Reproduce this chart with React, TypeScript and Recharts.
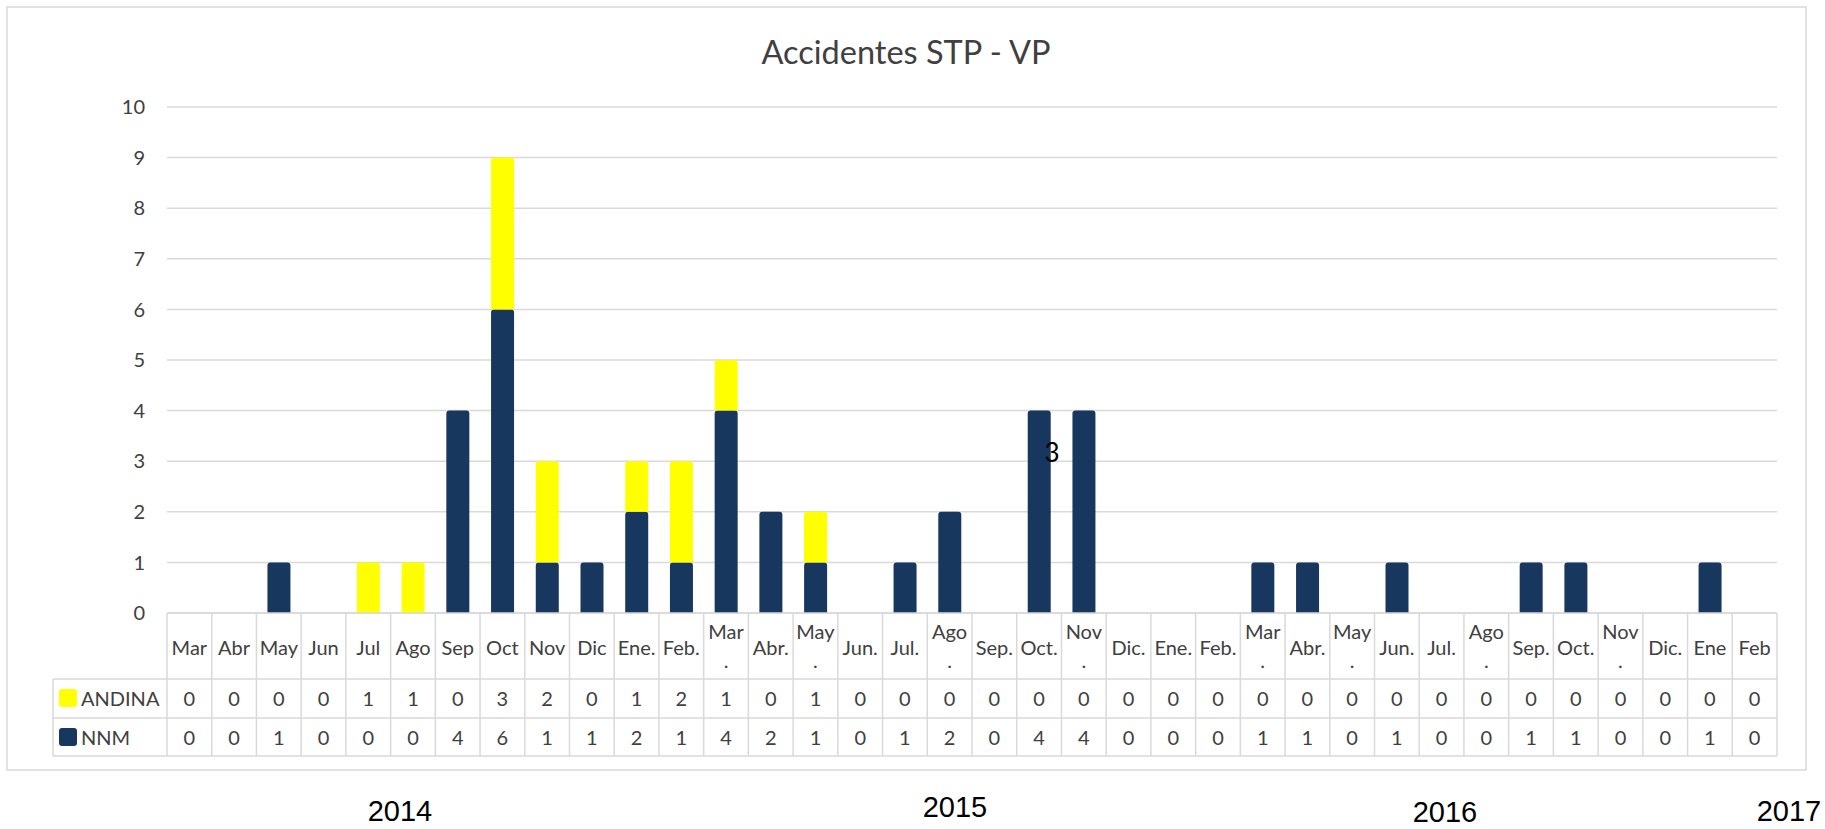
import React from 'react';
import { BarChart, Bar, XAxis, YAxis, CartesianGrid } from 'recharts';

// month headers of the data table ("\n" = wrapped label)
const monthLabels = [
  'Mar', 'Abr', 'May', 'Jun', 'Jul', 'Ago', 'Sep', 'Oct', 'Nov', 'Dic',
  'Ene.', 'Feb.', 'Mar\n.', 'Abr.', 'May\n.', 'Jun.', 'Jul.', 'Ago\n.', 'Sep.', 'Oct.', 'Nov\n.', 'Dic.',
  'Ene.', 'Feb.', 'Mar\n.', 'Abr.', 'May\n.', 'Jun.', 'Jul.', 'Ago\n.', 'Sep.', 'Oct.', 'Nov\n.', 'Dic.',
  'Ene', 'Feb',
];

const andina = [
  0, 0, 0, 0, 1, 1, 0, 3, 2, 0,
  1, 2, 1, 0, 1, 0, 0, 0, 0, 0, 0, 0,
  0, 0, 0, 0, 0, 0, 0, 0, 0, 0, 0, 0,
  0, 0,
];

const nnm = [
  0, 0, 1, 0, 0, 0, 4, 6, 1, 1,
  2, 1, 4, 2, 1, 0, 1, 2, 0, 4, 4, 0,
  0, 0, 1, 1, 0, 1, 0, 0, 1, 1, 0, 0,
  1, 0,
];

const yTicks = [0, 1, 2, 3, 4, 5, 6, 7, 8, 9, 10];
const years = ['2014', '2015', '2016', '2017'];

const data = monthLabels.map((m, i) => ({ id: String(i), month: m, andina: andina[i], nnm: nnm[i] }));

const W = 1825;
const H = 829;
const PLOT_LEFT = 167;
const PLOT_RIGHT = 1777;
const PLOT_TOP = 107;
const PLOT_BOTTOM = 613;
const TABLE_H = 143;
const BW = (PLOT_RIGHT - PLOT_LEFT) / monthLabels.length;

const NAVY = '#18375f';
const YELLOW = '#ffff00';
const GRID = '#d9d9d9';
const TEXT = '#404040';
const FONT = 'Lato, "Open Sans", sans-serif';

const TableTick = (props: any) => {
  const { x, y, payload } = props;
  const i = Number(payload.value);
  const left = x - BW / 2;
  const right = x + BW / 2;
  const [l1, l2] = monthLabels[i].split('\n');
  const line = { stroke: GRID, strokeWidth: 1.5 };
  const txt = { fontFamily: FONT, fontSize: 20, fill: TEXT, textAnchor: 'middle' as const };
  return (
    <g>
      <line x1={left} y1={y} x2={left} y2={y + TABLE_H} {...line} />
      {i === monthLabels.length - 1 && <line x1={right} y1={y} x2={right} y2={y + TABLE_H} {...line} />}
      <line x1={left} y1={y + 66} x2={right} y2={y + 66} {...line} />
      <line x1={left} y1={y + 105} x2={right} y2={y + 105} {...line} />
      <line x1={left} y1={y + TABLE_H} x2={right} y2={y + TABLE_H} {...line} />
      {l2 ? (
        <>
          <text x={x} y={y + 26} {...txt}>{l1}</text>
          <text x={x} y={y + 55} {...txt}>{l2}</text>
        </>
      ) : (
        <text x={x} y={y + 42} {...txt}>{l1}</text>
      )}
      <text x={x} y={y + 93} {...txt}>{andina[i]}</text>
      <text x={x} y={y + 132} {...txt}>{nnm[i]}</text>
      {i === 0 && (
        <g>
          <line x1={53} y1={y + 66} x2={left} y2={y + 66} {...line} />
          <line x1={53} y1={y + 105} x2={left} y2={y + 105} {...line} />
          <line x1={53} y1={y + TABLE_H} x2={left} y2={y + TABLE_H} {...line} />
          <line x1={53} y1={y + 66} x2={53} y2={y + TABLE_H} {...line} />
          <rect x={59} y={y + 76} width={18} height={18} rx={3} fill={YELLOW} />
          <rect x={59} y={y + 115} width={18} height={18} rx={3} fill={NAVY} />
          <text x={81} y={y + 93} fontFamily={FONT} fontSize={20} fill={TEXT}>ANDINA</text>
          <text x={81} y={y + 132} fontFamily={FONT} fontSize={20} fill={TEXT}>NNM</text>
        </g>
      )}
    </g>
  );
};

export default function App() {
  return (
    <div style={{ position: 'absolute', left: 0, top: 0, width: W, height: H, background: '#fff' }}>
      <BarChart
        width={W}
        height={H}
        data={data}
        barSize={23}
        margin={{ top: PLOT_TOP, right: W - PLOT_RIGHT, left: PLOT_LEFT - 60, bottom: H - PLOT_BOTTOM - TABLE_H }}
      >
        <CartesianGrid vertical={false} stroke={GRID} strokeWidth={1.5} />
        <XAxis
          dataKey="id"
          height={TABLE_H}
          interval={0}
          tickSize={0}
          tickMargin={0}
          tickLine={false}
          axisLine={{ stroke: GRID, strokeWidth: 1.5 }}
          tick={<TableTick />}
        />
        <YAxis
          width={60}
          domain={[0, 10]}
          ticks={yTicks}
          interval={0}
          tickSize={0}
          tickMargin={22}
          tickLine={false}
          axisLine={false}
          tick={{ fontFamily: FONT, fontSize: 20, fill: TEXT }}
        />
        <Bar dataKey="nnm" stackId="a" fill={NAVY} radius={[3, 3, 0, 0]} isAnimationActive={false} />
        <Bar dataKey="andina" stackId="a" fill={YELLOW} radius={[3, 3, 0, 0]} isAnimationActive={false} />
      </BarChart>
      <svg width={W} height={H} style={{ position: 'absolute', left: 0, top: 0, pointerEvents: 'none' }}>
        <rect x={7} y={7} width={1799} height={763} fill="none" stroke={GRID} strokeWidth={1.5} />
        <text x={906} y={64} textAnchor="middle" fontFamily={FONT} fontSize={32.5} fill={TEXT}>
          Accidentes STP - VP
        </text>
        <text x={1052} y={462} textAnchor="middle" fontFamily={FONT} fontSize={26} fill="#000">3</text>
        {years.map((yr, k) => (
          <text
            key={yr}
            x={[400, 955, 1445, 1789][k]}
            y={[821, 817, 822, 821][k]}
            textAnchor="middle"
            fontFamily='"Liberation Sans", Arial, sans-serif'
            fontSize={29}
            fill="#000"
          >
            {yr}
          </text>
        ))}
      </svg>
    </div>
  );
}
